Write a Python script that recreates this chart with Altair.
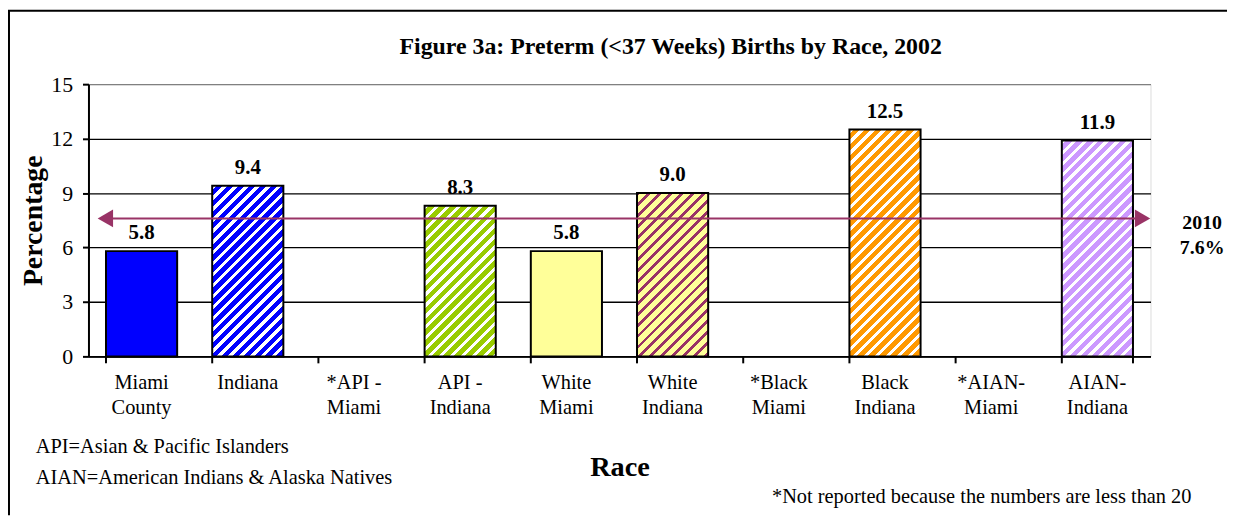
import altair as alt
import pandas as pd

# ---------------- data ----------------
categories = ["Miami\nCounty", "Indiana", "*API -\nMiami", "API -\nIndiana", "White\nMiami",
              "White\nIndiana", "*Black\nMiami", "Black\nIndiana", "*AIAN-\nMiami", "AIAN-\nIndiana"]
values = [5.8, 9.4, None, 8.3, 5.8, 9.0, None, 12.5, None, 11.9]
base_colors = ["#0000FF", "#0000FF", None, "#99CC00", "#FFFF99", "#FFFF99", None, "#FF9900", None, "#CC99FF"]
stripe_colors = [None, "#FFFFFF", None, "#FFFFFF", None, "#993366", None, "#FFFFFF", None, "#FFFFFF"]
stripe_fraction = [0, 0.4, 0, 0.4, 0, 0.35, 0, 0.4, 0, 0.4]
y_ticks = [0, 3, 6, 9, 12, 15]
target_label = ["2010", "7.6%"]
target_value = 7.6
title_text = "Figure 3a: Preterm (<37 Weeks) Births by Race, 2002"
note_left = ["API=Asian & Pacific Islanders", "AIAN=American Indians & Alaska Natives"]
note_right = "*Not reported because the numbers are less than 20"

# ---------------- layout ----------------
W, H = 1069, 274
Y_MAX = 15
P_IN, P_OUT = 0.33, 0.165
FONT = "Liberation Serif"
step = W / (len(categories) - P_IN + 2 * P_OUT)
bar_w = step * (1 - P_IN)

xscale = alt.Scale(domain=categories, paddingInner=P_IN, paddingOuter=P_OUT)
yscale = alt.Scale(domain=[0, Y_MAX], nice=False)


def stripe_gradient(base, stripe, frac, h, w, period=11.0):
    L = w + h
    k = w * L / (w * w + h * h)
    stops = []
    j = 0
    while True:
        a = j * period / L
        if a >= 1:
            break
        b = min((j * period + frac * period) / L, 1)
        c = min((j + 1) * period / L, 1)
        stops += [(a, stripe), (b, stripe), (b, base), (c, base)]
        j += 1
    return {"gradient": "linear", "x1": 0, "y1": 0, "x2": k, "y2": k * h / w,
            "stops": [{"offset": o, "color": col} for o, col in stops]}


df = pd.DataFrame({"cat": categories, "val": values})
bars_df = df.dropna()

x_main = alt.X("cat:N", scale=xscale, sort=categories,
               axis=alt.Axis(title="Race", labelAngle=0, ticks=False,
                             labelExpr="split(datum.label, '\\n')",
                             labelFont=FONT, labelFontSize=20.5, labelColor="black",
                             labelLineHeight=25, labelPadding=16,
                             domainColor="black", domainWidth=2,
                             titleFont=FONT, titleFontSize=28.5, titleFontWeight="bold",
                             titleColor="black", titlePadding=35))
y_main = alt.Y("val:Q", scale=yscale,
               axis=alt.Axis(values=y_ticks, title="Percentage", grid=True,
                             gridColor={"condition": {"test": "datum.value == 15", "value": "#808080"},
                                        "value": "black"},
                             gridWidth=1.3,
                             domainColor="black", domainWidth=2,
                             tickColor="black", tickWidth=2, tickSize=6,
                             labelFont=FONT, labelFontSize=22, labelColor="black", labelPadding=10,
                             titleFont=FONT, titleFontSize=28, titleFontWeight="bold",
                             titleColor="black", titlePadding=3))

layers = []
for i, (c, v) in enumerate(zip(categories, values)):
    if v is None:
        continue
    h = v / Y_MAX * H
    if stripe_colors[i] is None:
        fill = base_colors[i]
    else:
        fill = stripe_gradient(base_colors[i], stripe_colors[i], stripe_fraction[i], h, bar_w)
    layer = alt.Chart(df[df.cat == c]).mark_bar(fill=fill, stroke="black", strokeWidth=2).encode(
        x=x_main, y=y_main)
    layers.append(layer)

labels = alt.Chart(bars_df).mark_text(font=FONT, fontSize=21, fontWeight="bold", dy=-12,
                                      baseline="alphabetic", color="black").encode(
    x=alt.X("cat:N", sort=categories), y=alt.Y("val:Q"), text=alt.Text("val:Q", format=".1f"))

tick_df = pd.DataFrame({"cat": categories})
ticks_left = alt.Chart(tick_df).mark_rule(color="black", strokeWidth=2).encode(
    x=alt.X("cat:N", sort=categories, bandPosition=0), y=alt.value(H), y2=alt.value(H + 7))
ticks_right = alt.Chart(tick_df.tail(1)).mark_rule(color="black", strokeWidth=2).encode(
    x=alt.X("cat:N", sort=categories, bandPosition=1), y=alt.value(H), y2=alt.value(H + 7))

tgt = pd.DataFrame({"v": [target_value]})
arrow_line = alt.Chart(tgt).mark_rule(color="#993366", strokeWidth=2).encode(
    y=alt.Y("v:Q"), x=alt.value(14), x2=alt.value(1062))
arrow_l = alt.Chart(tgt).mark_point(shape="triangle-left", filled=True, color="#993366",
                                    size=320, opacity=1).encode(y=alt.Y("v:Q"), x=alt.value(17))
arrow_r = alt.Chart(tgt).mark_point(shape="triangle-right", filled=True, color="#993366",
                                    size=320, opacity=1).encode(y=alt.Y("v:Q"), x=alt.value(1061))

one = pd.DataFrame({"k": [0]})
tgt_t1 = alt.Chart(one).mark_text(font=FONT, fontSize=20, fontWeight="bold", color="black",
                                  align="center", baseline="middle").encode(
    x=alt.value(1121), y=alt.value(140), text=alt.value(target_label[0]))
tgt_t2 = alt.Chart(one).mark_text(font=FONT, fontSize=20, fontWeight="bold", color="black",
                                  align="center", baseline="middle").encode(
    x=alt.value(1121), y=alt.value(165), text=alt.value(target_label[1]))

title = alt.Chart(one).mark_text(font=FONT, fontSize=24, fontWeight="bold", color="black",
                                 align="center", baseline="middle").encode(
    x=alt.value(586), y=alt.value(-37), text=alt.value(title_text))
note1 = alt.Chart(one).mark_text(font=FONT, fontSize=20.5, color="black",
                                 align="left", baseline="middle").encode(
    x=alt.value(-53), y=alt.value(365), text=alt.value(note_left[0]))
note2 = alt.Chart(one).mark_text(font=FONT, fontSize=20.5, color="black",
                                 align="left", baseline="middle").encode(
    x=alt.value(-53), y=alt.value(396), text=alt.value(note_left[1]))
note3 = alt.Chart(one).mark_text(font=FONT, fontSize=20.5, color="black",
                                 align="left", baseline="middle").encode(
    x=alt.value(688), y=alt.value(416), text=alt.value(note_right))

frame_left = alt.Chart(one).mark_rule(color="black", strokeWidth=2).encode(
    x=alt.value(-80), y=alt.value(-74), y2=alt.value(434))
frame_top = alt.Chart(one).mark_rule(color="black", strokeWidth=2).encode(
    y=alt.value(-74), x=alt.value(-81), x2=alt.value(1146))

chart = alt.layer(
    *layers, labels, ticks_left, ticks_right, arrow_line, arrow_l, arrow_r,
    tgt_t1, tgt_t2, title, note1, note2, note3, frame_left, frame_top
).properties(
    width=W, height=H,
    autosize=alt.AutoSizeParams(type="none"),
    padding={"left": 81, "top": 75, "right": 77, "bottom": 160},
).configure_view(
    stroke="#808080", strokeWidth=1.5
).configure(background="white")

chart.save("out.html", embed_options={"renderer": "svg", "actions": False})
